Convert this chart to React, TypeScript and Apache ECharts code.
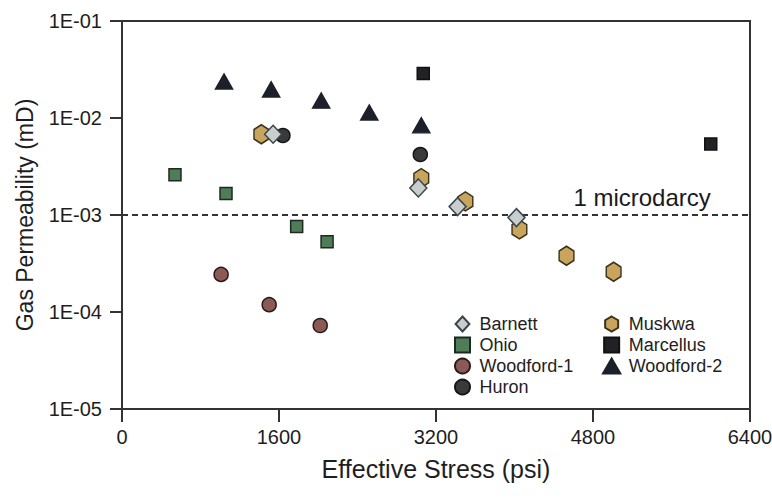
import React, { useEffect, useRef } from "react";
import * as echarts from "echarts";

// Effective stress (psi) and gas permeability (mD) per shale
const barnettStress = [1540, 3020, 3420, 4020];
const barnettPerm = [0.0068, 0.0019, 0.00122, 0.00094];

const ohioStress = [540, 1060, 1780, 2090];
const ohioPerm = [0.0026, 0.00167, 0.00076, 0.00053];

const woodford1Stress = [1010, 1500, 2020];
const woodford1Perm = [0.000244, 0.000119, 0.0000726];

const huronStress = [1640, 3040];
const huronPerm = [0.0066, 0.0042];

const muskwaStress = [1420, 3050, 3500, 4050, 4530, 5010];
const muskwaPerm = [0.0068, 0.0024, 0.00138, 0.00071, 0.00038, 0.00026];

const marcellusStress = [3070, 6000];
const marcellusPerm = [0.0288, 0.0054];

const woodford2Stress = [1040, 1520, 2030, 2520, 3050];
const woodford2Perm = [0.0238, 0.0197, 0.0151, 0.0114, 0.0084];

const xTicks = [0, 1600, 3200, 4800, 6400];
const yTickLabels = ["1E-05", "1E-04", "1E-03", "1E-02", "1E-01"];

// 1 microdarcy reference level and where its caption sits along the line
const microdarcy = 0.001;
const microdarcyLabelStress = 5300;

const FONT = "'Liberation Sans', Arial, Helvetica, sans-serif";
const HEXAGON = "path://M0,-10L8.66,-5L8.66,5L0,10L-8.66,5L-8.66,-5Z";
const SQUARE = "path://M0,0L10,0L10,10L0,10Z";
const SMALL_TRIANGLE = "path://M6,0L12,10.4L0,10.4Z";
const DIAMOND = "path://M6,0L12,6.5L6,13L0,6.5Z";

const legendLeft = [
  { name: "Barnett", icon: DIAMOND },
  { name: "Ohio", icon: SQUARE },
  { name: "Woodford-1" },
  { name: "Huron" },
];
const legendRight = [
  { name: "Muskwa" },
  { name: "Marcellus", icon: SQUARE },
  { name: "Woodford-2", icon: SMALL_TRIANGLE },
];

const pairs = (xs: number[], ys: number[]) => xs.map((x, i) => [x, ys[i]]);

function scatter(
  name: string,
  xs: number[],
  ys: number[],
  symbol: string,
  size: number | number[],
  fill: string,
  border: string,
  z: number
) {
  return {
    name,
    type: "scatter",
    data: pairs(xs, ys),
    symbol,
    symbolSize: size,
    symbolKeepAspect: true,
    z,
    itemStyle: { color: fill, borderColor: border, borderWidth: 1.5, opacity: 1 },
    emphasis: { disabled: true },
  };
}

export default function App() {
  const ref = useRef<HTMLDivElement>(null);

  useEffect(() => {
    if (!ref.current) return;
    const chart = echarts.init(ref.current, undefined, { renderer: "svg" });

    const legendBase = {
      orient: "vertical",
      itemWidth: 24,
      itemHeight: 15,
      itemGap: 3,
      selectedMode: false,
      symbolKeepAspect: true,
      textStyle: { fontFamily: FONT, fontSize: 18, color: "#1e1e1e" },
    };

    chart.setOption({
      animation: false,
      backgroundColor: "#ffffff",
      grid: {
        left: 122,
        right: 22,
        top: 21,
        bottom: 92,
        show: true,
        borderColor: "#333",
        borderWidth: 2,
        outerBoundsMode: "none",
      },
      legend: [
        { ...legendBase, data: legendLeft, left: 449, top: 310 },
        { ...legendBase, data: legendRight, left: 597, top: 310 },
      ],
      xAxis: {
        type: "value",
        min: xTicks[0],
        max: xTicks[xTicks.length - 1],
        interval: 1600,
        name: "Effective Stress (psi)",
        nameLocation: "middle",
        nameGap: 47,
        nameTextStyle: { fontFamily: FONT, fontSize: 25, color: "#1e1e1e" },
        axisLine: { show: true, lineStyle: { color: "#333", width: 2 } },
        axisTick: { show: true, length: 13, lineStyle: { color: "#333", width: 2 } },
        axisLabel: {
          fontFamily: FONT,
          fontSize: 20,
          color: "#1e1e1e",
          margin: 18,
          showMaxLabel: true,
          formatter: (v: number) => String(v),
        },
        splitLine: { show: false },
      },
      yAxis: {
        type: "log",
        logBase: 10,
        min: 0.00001,
        max: 0.1,
        name: "Gas Permeability (mD)",
        nameLocation: "middle",
        nameGap: 86,
        nameTextStyle: { fontFamily: FONT, fontSize: 23, color: "#1e1e1e" },
        axisLine: { show: true, lineStyle: { color: "#333", width: 2 } },
        axisTick: { show: true, length: 12, lineStyle: { color: "#333", width: 2 } },
        minorTick: { show: false },
        axisLabel: {
          fontFamily: FONT,
          fontSize: 20,
          color: "#1e1e1e",
          margin: 20,
          formatter: (v: number) => {
            const idx = Math.round(Math.log10(v)) + 5;
            return yTickLabels[idx] ?? "";
          },
        },
        splitLine: { show: false },
      },
      series: [
        {
          name: "1 microdarcy",
          type: "line",
          silent: true,
          z: 2,
          symbol: "circle",
          symbolSize: 0,
          showSymbol: true,
          itemStyle: { color: "#333", opacity: 0 },
          lineStyle: { type: [6, 4], color: "#333", width: 2 },
          emphasis: { disabled: true },
          label: { show: false },
          data: [
            [xTicks[0], microdarcy],
            {
              value: [microdarcyLabelStress, microdarcy],
              label: {
                show: true,
                position: "top",
                distance: 6,
                formatter: "1 microdarcy",
                fontFamily: FONT,
                fontSize: 24,
                color: "#1a1a1a",
                opacity: 1,
              },
            },
            [xTicks[xTicks.length - 1], microdarcy],
          ],
        },
        scatter("Ohio", ohioStress, ohioPerm, "rect", 12, "#4f7d57", "#1d2a20", 3),
        scatter("Woodford-1", woodford1Stress, woodford1Perm, "circle", 14, "#8b5a55", "#2a1a18", 3),
        scatter("Woodford-2", woodford2Stress, woodford2Perm, "triangle", [17, 15], "#1d202b", "#1d202b", 3),
        scatter("Marcellus", marcellusStress, marcellusPerm, "rect", 12, "#222226", "#111", 3),
        scatter("Huron", huronStress, huronPerm, "circle", 14, "#3a3a3c", "#151515", 3),
        scatter("Muskwa", muskwaStress, muskwaPerm, HEXAGON, [17, 19], "#c8a45c", "#3a321f", 4),
        scatter("Barnett", barnettStress, barnettPerm, "diamond", [17, 18], "#c9cdcc", "#38464f", 5),
      ],
    });

    return () => chart.dispose();
  }, []);

  return (
    <div
      ref={ref}
      style={{ position: "absolute", left: 0, top: 0, width: 772, height: 501, background: "#fff" }}
    />
  );
}
